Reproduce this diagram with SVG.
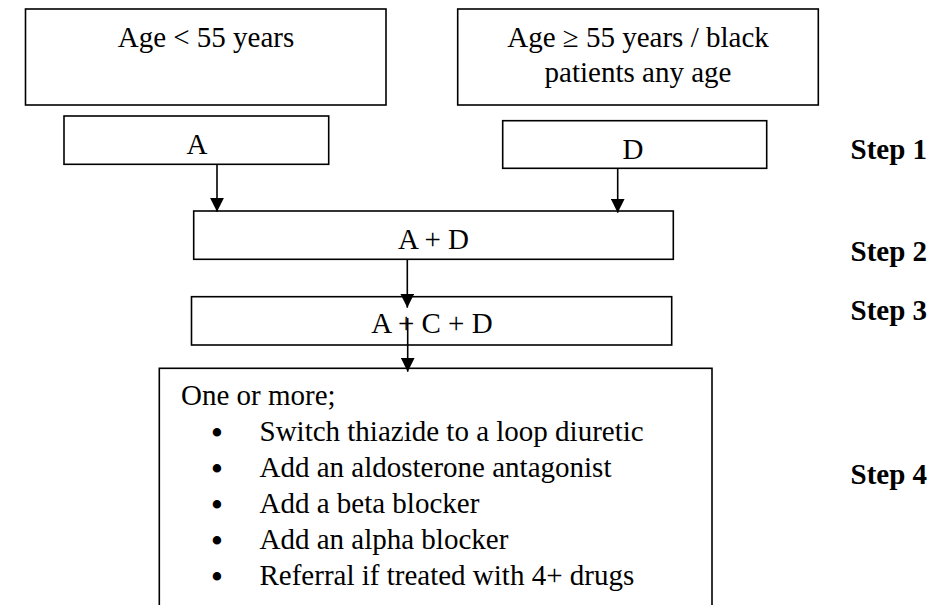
<svg xmlns="http://www.w3.org/2000/svg" width="951" height="605" viewBox="0 0 951 605">
  <defs>
    <style>
      .box { fill: #ffffff; stroke: #000000; stroke-width: 1.6; }
      .t { font-family: "Liberation Serif", "Times New Roman", serif; font-size: 29px; fill: #000000; }
      .c { text-anchor: middle; }
      .step { font-family: "Liberation Serif", "Times New Roman", serif; font-size: 29px; font-weight: bold; fill: #000000; }
      .bul { font-family: "Liberation Serif", "Times New Roman", serif; font-size: 31px; font-weight: bold; fill: #000000; text-anchor: middle; }
      .conn { stroke: #000000; stroke-width: 1.6; fill: none; marker-end: url(#arrow); }
    </style>
    <marker id="arrow" markerUnits="userSpaceOnUse" markerWidth="14" markerHeight="14" refX="14" refY="7" orient="auto">
      <path d="M0,0 L14,7 L0,14 Z" fill="#000000"/>
    </marker>
  </defs>
  <rect width="951" height="605" fill="#ffffff"/>

  <g id="age-under-55">
    <rect class="box" x="25.5" y="9" width="360.5" height="96"/>
    <text class="t c" x="206" y="47">Age &lt; 55 years</text>
  </g>

  <g id="age-over-55">
    <rect class="box" x="457.7" y="9" width="360.6" height="96"/>
    <text class="t c" x="638" y="47">Age ≥ 55 years / black</text>
    <text class="t c" x="638" y="81.5">patients any age</text>
  </g>

  <g id="node-a">
    <rect class="box" x="64" y="116" width="264.7" height="48.3"/>
    <text class="t c" x="197" y="154">A</text>
  </g>

  <g id="node-d">
    <rect class="box" x="502.7" y="120.7" width="264" height="47.6"/>
    <text class="t c" x="633" y="159.3">D</text>
  </g>

  <g id="node-ad">
    <rect class="box" x="193.7" y="211" width="479.6" height="48.3"/>
    <text class="t c" x="433.5" y="249">A + D</text>
  </g>

  <g id="node-acd">
    <rect class="box" x="191.5" y="296.7" width="480.2" height="48.3"/>
    <text class="t c" x="432" y="333">A + C + D</text>
  </g>

  <g id="node-step4-options">
    <rect class="box" x="159.3" y="368.3" width="552.7" height="260"/>
    <text class="t" x="181" y="405">One or more;</text>
    <text class="bul" x="217" y="443">•</text>
    <text class="bul" x="217" y="479">•</text>
    <text class="bul" x="217" y="515">•</text>
    <text class="bul" x="217" y="551">•</text>
    <text class="bul" x="217" y="587">•</text>
    <text class="t" x="259.5" y="441">Switch thiazide to a loop diuretic</text>
    <text class="t" x="259.5" y="477">Add an aldosterone antagonist</text>
    <text class="t" x="259.5" y="513">Add a beta blocker</text>
    <text class="t" x="259.5" y="549">Add an alpha blocker</text>
    <text class="t" x="259.5" y="585">Referral if treated with 4+ drugs</text>
  </g>

  <g id="step-labels">
    <text class="step" x="850.5" y="159.3">Step 1</text>
    <text class="step" x="850.5" y="260.7">Step 2</text>
    <text class="step" x="850.5" y="320">Step 3</text>
    <text class="step" x="850.5" y="484">Step 4</text>
  </g>

  <g id="connectors">
    <line class="conn" x1="217" y1="164.3" x2="217" y2="211.7"/>
    <line class="conn" x1="617.7" y1="168.3" x2="617.7" y2="212.7"/>
    <line class="conn" x1="407.3" y1="259.3" x2="407.3" y2="307.7"/>
    <line class="conn" x1="407.7" y1="318" x2="407.7" y2="371.7"/>
  </g>
</svg>
